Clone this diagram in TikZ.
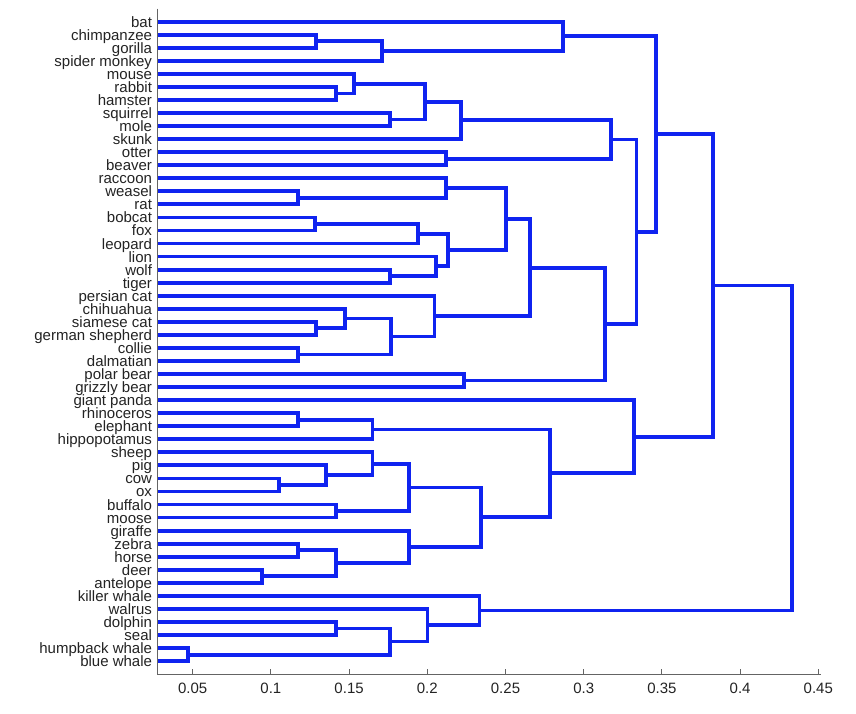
\documentclass[tikz,border=0pt]{standalone}
\usepackage{fontspec}
\setmainfont{Liberation Sans}
\definecolor{dblue}{RGB}{15,35,240}
\definecolor{axgray}{RGB}{100,100,100}
\definecolor{txt}{RGB}{35,35,35}
\newcommand\xmin{0.0276}
\newcommand\xmax{0.4515}
\newcommand\dmerge[5]{\coordinate (#1) at (#2,#3); \draw[br] (#4) -| (#1) |- (#5);}
\begin{document}
\begin{tikzpicture}[x=1564pt, y=-13.05pt,
  br/.style={draw=dblue, line width=3.8pt, line join=miter},
  axisline/.style={draw=axgray, line width=1pt},
  lab/.style={anchor=base east, inner sep=0pt, xshift=-5.5pt, yshift=-5.5pt, text=txt, font=\fontsize{15pt}{15pt}\selectfont},
  ticklab/.style={anchor=base, inner sep=0pt, yshift=-19.5pt, text=txt, font=\fontsize{15pt}{15pt}\selectfont}]
\useasboundingbox (-0.07321,-1.6628) rectangle (0.47410,53.050);
% leaves
\foreach \name [count=\i from 0] in {bat,chimpanzee,gorilla,spider monkey,mouse,rabbit,hamster,squirrel,mole,skunk,otter,beaver,raccoon,weasel,rat,bobcat,fox,leopard,lion,wolf,tiger,persian cat,chihuahua,siamese cat,german shepherd,collie,dalmatian,polar bear,grizzly bear,giant panda,rhinoceros,elephant,hippopotamus,sheep,pig,cow,ox,buffalo,moose,giraffe,zebra,horse,deer,antelope,killer whale,walrus,dolphin,seal,humpback whale,blue whale}{
  \coordinate (l\i) at (\xmin,\i);
  \node[lab] (t\i) at (l\i) {\name};
}
% primates / bat
\dmerge{cg}{0.1286}{1.5}{l1}{l2}
\dmerge{cgs}{0.1708}{2.25}{cg}{l3}
\dmerge{bt}{0.2866}{1.125}{l0}{cgs}
% rodents
\dmerge{rh}{0.1414}{5.5}{l5}{l6}
\dmerge{mrh}{0.1529}{4.75}{l4}{rh}
\dmerge{sm}{0.1761}{7.5}{l7}{l8}
\dmerge{rodA}{0.1983}{6.125}{mrh}{sm}
\dmerge{rodB}{0.2214}{7.5625}{rodA}{l9}
\dmerge{ob}{0.2119}{10.5}{l10}{l11}
\dmerge{rod}{0.3177}{9.03125}{rodB}{ob}
% carnivores
\dmerge{wr}{0.1171}{13.5}{l13}{l14}
\dmerge{rwr}{0.2119}{12.75}{l12}{wr}
\dmerge{bf}{0.1283}{15.5}{l15}{l16}
\dmerge{bfl}{0.1942}{16.25}{bf}{l17}
\dmerge{wt}{0.1761}{19.5}{l19}{l20}
\dmerge{lwt}{0.2055}{18.75}{l18}{wt}
\dmerge{cats}{0.2134}{17.5}{bfl}{lwt}
\dmerge{carn}{0.2502}{15.125}{rwr}{cats}
% pets
\dmerge{sg}{0.1286}{23.5}{l23}{l24}
\dmerge{csg}{0.1473}{22.75}{l22}{sg}
\dmerge{cd}{0.1171}{25.5}{l25}{l26}
\dmerge{petsA}{0.1767}{24.125}{csg}{cd}
\dmerge{pets}{0.2046}{22.5625}{l21}{petsA}
\dmerge{cp}{0.2658}{18.84375}{carn}{pets}
\dmerge{bears}{0.2236}{27.5}{l27}{l28}
\dmerge{cpb}{0.3134}{23.171875}{cp}{bears}
\dmerge{rcpb}{0.3338}{16.1015625}{rod}{cpb}
\dmerge{upper}{0.3462}{8.61328}{bt}{rcpb}
% ungulates
\dmerge{re}{0.1171}{30.5}{l30}{l31}
\dmerge{reh}{0.165}{31.25}{re}{l32}
\dmerge{co}{0.1054}{35.5}{l35}{l36}
\dmerge{pco}{0.1353}{34.75}{l34}{co}
\dmerge{spco}{0.165}{33.875}{l33}{pco}
\dmerge{bm}{0.1416}{37.5}{l37}{l38}
\dmerge{ungA}{0.1881}{35.6875}{spco}{bm}
\dmerge{zh}{0.1171}{40.5}{l40}{l41}
\dmerge{da}{0.0945}{42.5}{l42}{l43}
\dmerge{zhda}{0.1416}{41.5}{zh}{da}
\dmerge{gz}{0.1881}{40.25}{l39}{zhda}
\dmerge{ungB}{0.2345}{37.96875}{ungA}{gz}
\dmerge{ung}{0.2787}{34.609375}{reh}{ungB}
\dmerge{panda}{0.332}{31.8046875}{l29}{ung}
\dmerge{mid}{0.3825}{20.20898}{upper}{panda}
% whales
\dmerge{hb}{0.0472}{48.5}{l48}{l49}
\dmerge{ds}{0.1416}{46.5}{l46}{l47}
\dmerge{dshb}{0.1763}{47.5}{ds}{hb}
\dmerge{wds}{0.2001}{46.25}{l45}{dshb}
\dmerge{wh}{0.2334}{45.125}{l44}{wds}
\dmerge{root}{0.4333}{32.667}{mid}{wh}
% axes
\coordinate (ax0) at (\xmin,-1);
\coordinate (ax1) at (\xmin,50);
\coordinate (ax2) at (\xmax,50);
\draw[axisline] (ax0) -- (ax1) -- (ax2);
\foreach \t [count=\k] in {0.05,0.1,0.15,0.2,0.25,0.3,0.35,0.4,0.45}{
  \coordinate (tk\k) at (\t,50);
  \draw[axisline] (tk\k) -- ++(0pt,5pt);
  \node[ticklab] (tl\k) at (tk\k) {\t};
}
\end{tikzpicture}
\end{document}
